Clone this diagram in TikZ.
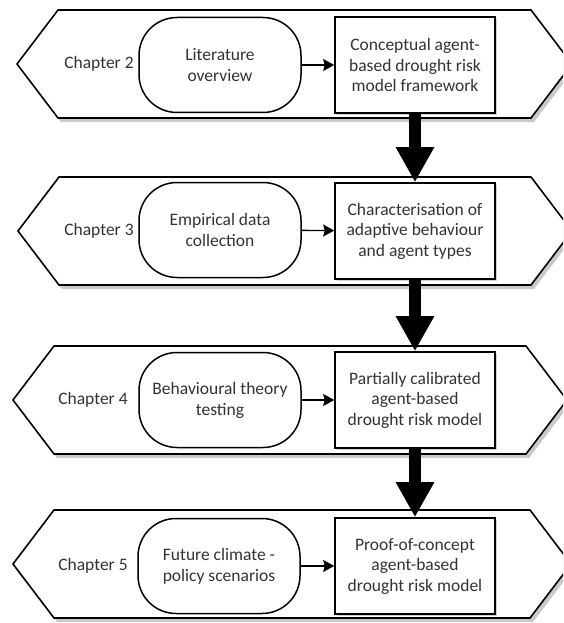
\documentclass[tikz,border=0pt]{standalone}
\usepackage{fontspec}
\setmainfont{Carlito}
\usetikzlibrary{arrows.meta,shadows}
\definecolor{txt}{HTML}{333333}
\tikzset{
  band/.style={draw=black, line width=1.6pt, fill=white, line join=miter,
    drop shadow={shadow xshift=3pt, shadow yshift=-4pt, opacity=0.35, fill=black!60}},
  rbox/.style={draw=black, line width=1.5pt, fill=white, rounded corners=38pt,
    minimum width=162pt, minimum height=95pt, align=center, text=txt,
    font=\fontsize{17.5}{21}\selectfont, inner sep=2pt},
  sbox/.style={draw=black, line width=1.6pt, fill=white, rectangle,
    minimum width=160pt, minimum height=96pt, align=center, text=txt,
    font=\fontsize{17.5}{20.5}\selectfont, inner sep=2pt,
    drop shadow={shadow xshift=2pt, shadow yshift=-2pt, opacity=0.3, fill=black!60}},
  chap/.style={text=txt, font=\fontsize{17.5}{21}\selectfont},
  thin arrow/.style={line width=1.4pt, -{Stealth[length=11pt,width=12pt,inset=1.5pt]}},
  big arrow/.style={line width=12pt, -{Triangle[width=36pt,length=35pt]}}
}
\begin{document}
\begin{tikzpicture}[x=1pt,y=-1pt]
\useasboundingbox (0,0) rectangle (563,623);
\clip (0,0) rectangle (563,623);
% bands
\foreach \c/\lx/\rx in {64/17/572, 231/18/572, 400/13/567, 564/13/571}{
  \path[band] (\lx,\c) -- (\lx+41,\c-54) -- (\rx-41,\c-54) -- (\rx,\c)
     -- (\rx-41,\c+54) -- (\lx+41,\c+54) -- cycle;
}
% chapter labels
\node[chap] (c2) at (99,64) {Chapter 2};
\node[chap] (c3) at (99,231) {Chapter 3};
\node[chap] (c4) at (93,400) {Chapter 4};
\node[chap] (c5) at (93,566) {Chapter 5};
% rounded boxes
\node[rbox] (r1) at (220,65) {Literature\\overview};
\node[rbox] (r2) at (220,230) {Empirical data\\collection};
\node[rbox] (r3) at (220,400) {Behavioural theory\\testing};
\node[rbox] (r4) at (219,566) {Future climate -\\policy scenarios};
% square boxes
\node[sbox] (b1) at (415,65) {Conceptual agent-\\based drought risk\\model framework};
\node[sbox] (b2) at (415,231) {Characterisation of\\adaptive behaviour\\and agent types};
\node[sbox] (b3) at (415,400) {Partially calibrated\\agent-based\\drought risk model};
\node[sbox] (b4) at (415,566) {Proof-of-concept\\agent-based\\drought risk model};
% thin arrows
\draw[thin arrow] (r1) -- (b1);
\draw[thin arrow] (r2) -- (b2);
\draw[thin arrow] (r3) -- (b3);
\draw[thin arrow] (r4) -- (b4);
% big arrows
\draw[big arrow] (b1.south) -- (b2.north);
\draw[big arrow] (b2.south) -- (b3.north);
\draw[big arrow] (b3.south) -- (b4.north);
\end{tikzpicture}
\end{document}
